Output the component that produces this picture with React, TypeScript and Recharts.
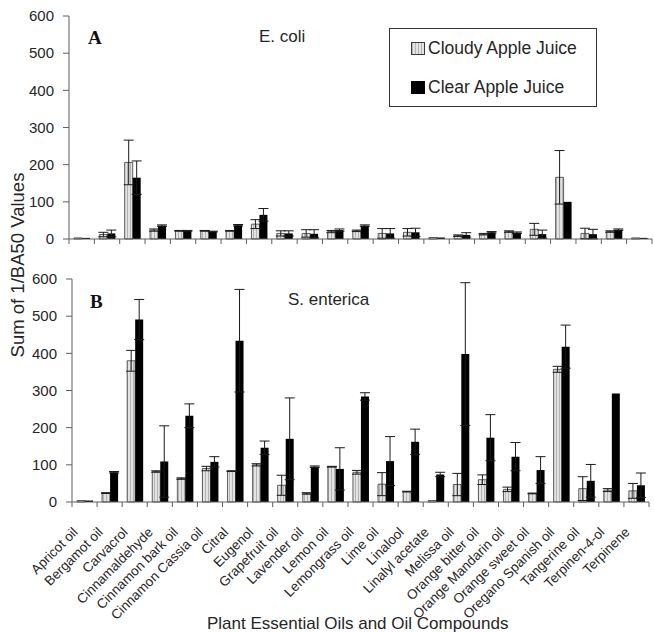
import React from 'react';
import { BarChart, Bar, XAxis, YAxis, ErrorBar } from 'recharts';

const categories = [
  'Apricot oil', 'Bergamot oil', 'Carvacrol', 'Cinnamaldehyde', 'Cinnamon bark oil',
  'Cinnamon Cassia oil', 'Citral', 'Eugenol', 'Grapefruit oil', 'Lavender oil',
  'Lemon oil', 'Lemongrass oil', 'Lime oil', 'Linalool', 'Linalyl acetate',
  'Melissa oil', 'Orange bitter oil', 'Orange Mandarin oil', 'Orange sweet oil',
  'Oregano Spanish oil', 'Tangerine oil', 'Terpinen-4-ol', 'Terpinene',
];

const yTicks = [0, 100, 200, 300, 400, 500, 600];

// A: E. coli
const ecoliCloudy = [3, 12, 206, 24, 22, 22, 22, 40, 15, 15, 20, 22, 15, 18, 4, 9, 13, 20, 26, 166, 15, 20, 3];
const ecoliCloudyErr = [0, 6, 60, 3, 1, 1, 1, 12, 7, 10, 3, 2, 13, 10, 0, 2, 2, 2, 16, 72, 14, 2, 0];
const ecoliClear = [3, 15, 165, 36, 22, 20, 37, 65, 15, 14, 24, 36, 15, 18, 4, 11, 18, 17, 13, 100, 13, 25, 3];
const ecoliClearErr = [0, 9, 45, 2, 1, 1, 2, 17, 7, 11, 3, 2, 13, 11, 0, 6, 2, 2, 11, 0, 13, 2, 0];

// B: S. enterica
const salCloudy = [4, 24, 380, 82, 63, 90, 83, 100, 45, 23, 95, 80, 48, 28, 4, 47, 60, 34, 23, 357, 36, 32, 30];
const salCloudyErr = [0, 1, 28, 2, 2, 6, 1, 3, 27, 2, 1, 5, 31, 1, 0, 30, 13, 6, 1, 8, 32, 4, 20];
const salClear = [4, 80, 491, 109, 232, 108, 434, 146, 170, 95, 89, 284, 110, 162, 74, 398, 173, 122, 86, 418, 57, 292, 45];
const salClearErr = [0, 2, 54, 96, 32, 14, 138, 18, 110, 2, 57, 10, 66, 34, 6, 192, 62, 38, 36, 58, 44, 0, 33];

const ecoliData = categories.map((name, i) => ({
  name,
  cloudy: ecoliCloudy[i],
  cloudyErr: ecoliCloudyErr[i],
  clear: ecoliClear[i],
  clearErr: ecoliClearErr[i],
}));

const salData = categories.map((name, i) => ({
  name,
  cloudy: salCloudy[i],
  cloudyErr: salCloudyErr[i],
  clear: salClear[i],
  clearErr: salClearErr[i],
}));

const FONT = '"Liberation Sans", Arial, sans-serif';
const AXIS = '#5e5e5e';
const TEXT = '#262626';
const W = 654;

const TOP_LEFT = 69;
const TOP_RIGHT = 2;
const BOT_LEFT = 72;
const BOT_RIGHT = 5;
const BAND_TOP = (W - TOP_LEFT - TOP_RIGHT) / categories.length;
const BAND_BOT = (W - BOT_LEFT - BOT_RIGHT) / categories.length;

const Hatch = ({ id }: { id: string }) => (
  <defs>
    <pattern id={id} width="3" height="4" patternUnits="userSpaceOnUse">
      <rect width="3" height="4" fill="#e3e3e3" />
      <line x1="1.5" y1="0" x2="1.5" y2="4" stroke="#a8a8a8" strokeWidth="0.8" />
    </pattern>
  </defs>
);

const makeTick = (band: number, withLabel: boolean) => (props: any) => {
  const { x, y, payload, index } = props;
  const lx = x - 6;
  const ly = y + 31;
  return (
    <g>
      <line x1={x - band / 2} x2={x - band / 2} y1={y} y2={y + 5} stroke={AXIS} />
      {index === categories.length - 1 && (
        <line x1={x + band / 2} x2={x + band / 2} y1={y} y2={y + 5} stroke={AXIS} />
      )}
      {withLabel && (
        <text
          x={lx}
          y={ly}
          transform={`rotate(-45 ${lx} ${ly})`}
          textAnchor="end"
          fontSize={13.5}
          fontFamily={FONT}
          fill={TEXT}
        >
          {payload.value}
        </text>
      )}
    </g>
  );
};

const Panel = ({
  data,
  height,
  marginTop,
  left,
  right,
  band,
  xHeight,
  withLabels,
  patternId,
}: any) => (
  <BarChart
    width={W}
    height={height}
    data={data}
    margin={{ top: marginTop, right, left: 0, bottom: 0 }}
    barSize={8}
    barGap={0}
  >
    <Hatch id={patternId} />
    <XAxis
      dataKey="name"
      interval={0}
      height={xHeight}
      tickSize={0}
      tickMargin={0}
      tickLine={false}
      axisLine={{ stroke: AXIS }}
      tick={makeTick(band, withLabels)}
    />
    <XAxis xAxisId="top" dataKey="name" orientation="top" height={0} tick={false} tickLine={false} axisLine={{ stroke: AXIS }} />
    <YAxis
      width={left}
      domain={[0, 600]}
      ticks={yTicks}
      interval={0}
      tickSize={6}
      tickMargin={9}
      axisLine={{ stroke: AXIS }}
      tickLine={{ stroke: AXIS }}
      tick={{ fontSize: 15, fontFamily: FONT, fill: TEXT }}
    />
    <YAxis yAxisId="right" orientation="right" width={0} domain={[0, 600]} tick={false} tickLine={false} axisLine={{ stroke: AXIS }} />
    <Bar dataKey="cloudy" name="Cloudy Apple Juice" fill={`url(#${patternId})`} stroke="#3a3a3a" strokeWidth={0.8} isAnimationActive={false}>
      <ErrorBar dataKey="cloudyErr" width={5} stroke="#1a1a1a" strokeWidth={1} />
    </Bar>
    <Bar dataKey="clear" name="Clear Apple Juice" fill="#000" isAnimationActive={false}>
      <ErrorBar dataKey="clearErr" width={5} stroke="#1a1a1a" strokeWidth={1} />
    </Bar>
  </BarChart>
);

const abs = (left: number, top: number, extra: any = {}) => ({
  position: 'absolute' as const,
  left,
  top,
  whiteSpace: 'nowrap' as const,
  lineHeight: 1,
  ...extra,
});

export default function App() {
  return (
    <div style={{ position: 'relative', width: W, height: 632, overflow: 'hidden', background: '#fff', fontFamily: FONT, color: TEXT }}>
      <style>{'html, body { margin: 0; padding: 0; overflow: hidden; }'}</style>
      <div style={abs(0, 0)}>
        <Panel data={ecoliData} height={250} marginTop={16} left={TOP_LEFT} right={TOP_RIGHT} band={BAND_TOP} xHeight={11} withLabels={false} patternId="hatchA" />
      </div>
      <div style={abs(0, 250)}>
        <Panel data={salData} height={382} marginTop={29} left={BOT_LEFT} right={BOT_RIGHT} band={BAND_BOT} xHeight={130} withLabels={true} patternId="hatchB" />
      </div>

      <div style={abs(88, 28, { fontFamily: '"Liberation Serif", serif', fontWeight: 'bold', fontSize: 19, color: '#111' })}>A</div>
      <div style={abs(259, 28, { fontSize: 17 })}>E. coli</div>
      <div style={abs(90, 292, { fontFamily: '"Liberation Serif", serif', fontWeight: 'bold', fontSize: 19, color: '#111' })}>B</div>
      <div style={abs(288, 291, { fontSize: 17 })}>S. enterica</div>

      <div
        style={abs(389, 28, {
          width: 206,
          height: 77,
          border: '1.5px solid #333',
          background: '#fff',
          fontSize: 17.5,
        })}
      >
        <div style={{ position: 'absolute', left: 21, top: 11, display: 'flex', alignItems: 'center' }}>
          <svg width={14} height={13} style={{ marginRight: 3 }}>
            <defs>
              <pattern id="hatchL" width="3" height="4" patternUnits="userSpaceOnUse">
                <rect width="3" height="4" fill="#e3e3e3" />
                <line x1="1.5" y1="0" x2="1.5" y2="4" stroke="#a8a8a8" strokeWidth="0.8" />
              </pattern>
            </defs>
            <rect x={0.5} y={0.5} width={13} height={12} fill="url(#hatchL)" stroke="#3a3a3a" />
          </svg>
          <span>Cloudy Apple Juice</span>
        </div>
        <div style={{ position: 'absolute', left: 21, top: 50, display: 'flex', alignItems: 'center' }}>
          <svg width={14} height={13} style={{ marginRight: 3 }}>
            <rect x={0} y={0} width={14} height={13} fill="#000" />
          </svg>
          <span>Clear Apple Juice</span>
        </div>
      </div>

      <div
        style={abs(18, 265, {
          fontSize: 18.5,
          transform: 'translate(-50%, -50%) rotate(-90deg)',
        })}
      >
        Sum of 1/BA50 Values
      </div>
      <div style={abs(207, 615, { fontSize: 17 })}>
        Plant Essential Oils and Oil Compounds
      </div>
    </div>
  );
}
